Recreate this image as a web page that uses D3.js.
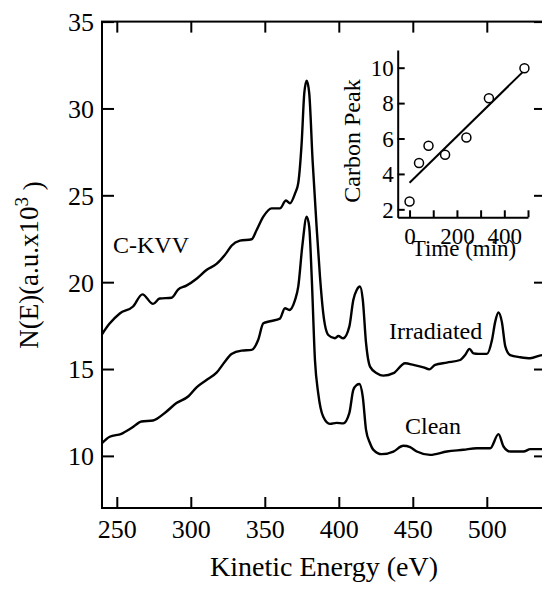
<!DOCTYPE html>
<html>
<head>
<script src="https://d3js.org/d3.v7.min.js"></script>
<style>
  body { margin: 0; background: #fff; }
  svg text { font-family: "Liberation Serif", "Times New Roman", serif; fill: #000; }
  .axis path { display: none; }
  .axis line { stroke: #000; stroke-width: 2; }
  .inset path.domain { display: inline; stroke: #000; stroke-width: 2; fill: none; }
</style>
</head>
<body>
<svg id="chart" width="542" height="591"></svg>
<script>
// spectra (eV, counts x10^3)
var irrEnergy = [240, 245, 252, 261, 267.3, 274.5, 279, 287, 291.4, 297, 303.9, 310.6, 317.4, 324.2, 327.5, 333.2,
  341.1, 344.5, 349, 354.6, 360.2, 364.3, 367, 370.4, 372.6, 374.9, 376.7, 378.3, 380, 382.3, 385, 387.3, 389.5,
  392.9, 397.4, 399.7, 403, 407.1, 409.8, 412.1, 414.3, 416.2, 418.4, 421.1, 425.7, 430.1, 436.9, 444.8, 450.4,
  457.2, 461.2, 465.1, 473, 482, 485.4, 488.3, 491, 494.4, 500.1, 503.5, 505.7, 507.9, 510.2, 512.5, 515.8,
  522.6, 529.4, 537.5, 540];
var irrCounts = [17.0, 17.6, 18.2, 18.6, 19.3, 18.75, 19.06, 19.1, 19.57, 19.8, 20.2, 20.7, 21.05, 21.7, 22.1, 22.39,
  22.47, 23.0, 23.77, 24.25, 24.25, 24.7, 24.54, 25.1, 25.7, 28.0, 30.9, 31.6, 30.9, 27.0, 23.2, 20.3, 18.2,
  16.96, 16.77, 16.9, 16.77, 17.44, 18.98, 19.55, 19.75, 19.0, 16.5, 15.14, 14.76, 14.62, 14.76, 15.33, 15.24,
  15.1, 14.98, 15.24, 15.37, 15.52, 15.81, 16.16, 15.9, 15.87, 15.87, 16.67, 17.73, 18.25, 17.7, 16.3, 15.8,
  15.68, 15.62, 15.8, 15.8];

var cleanEnergy = [240, 245.2, 253.1, 259.9, 266.7, 274.5, 282.4, 290.3, 298.2, 303.9, 310.6, 317.4, 323, 327.5,
  334.3, 341.1, 345.5, 349, 353.5, 360.2, 363.6, 366.5, 370.4, 372.6, 375.3, 378.3, 380, 381.7, 383.9, 386.1,
  389.5, 394, 398.5, 403, 407.1, 409.8, 412.1, 413.9, 416.2, 418.4, 421.1, 423.4, 429, 436.9, 443.6, 448.2,
  452.7, 461.7, 473, 484.2, 493.3, 502.3, 507.9, 511.3, 515.8, 524.8, 529.4, 537.5, 540];
var cleanCounts = [10.73, 11.1, 11.27, 11.6, 11.98, 12.04, 12.47, 13.04, 13.42, 13.95, 14.37, 14.79, 15.42, 15.87,
  16.06, 16.1, 16.67, 17.63, 17.75, 17.9, 18.5, 18.4, 18.97, 19.74, 22.04, 23.77, 23.2, 20.3, 15.5, 13.6,
  12.25, 11.84, 11.9, 11.87, 12.46, 13.8, 14.08, 14.14, 13.4, 11.5, 10.73, 10.35, 10.1, 10.25, 10.58, 10.5,
  10.25, 10.06, 10.25, 10.35, 10.44, 10.44, 11.25, 10.54, 10.25, 10.25, 10.39, 10.39, 10.39];

var energyTicks = [250, 300, 350, 400, 450, 500];
var countTicks = [10, 15, 20, 25, 30, 35];

// inset: carbon peak vs time
var timeMin = [0, 40, 80, 150, 240, 335, 485];
var carbonPeak = [2.44, 4.62, 5.59, 5.08, 6.06, 8.27, 9.97];
var fitTime = [0, 485];
var fitPeak = [3.5, 9.85];
var timeTicks = [0, 100, 200, 300, 400, 500];
var peakTicks = [2, 4, 6, 8, 10];

var svg = d3.select("#chart");

var x = d3.scaleLinear().domain([240, 540]).range([102, 546]);
var y = d3.scaleLinear().domain([7, 35]).range([508, 21.6]);

// frame
svg.append("rect")
  .attr("x", x(240)).attr("y", y(35))
  .attr("width", x(540) - x(240)).attr("height", y(7) - y(35))
  .attr("fill", "none").attr("stroke", "#000").attr("stroke-width", 2);

svg.append("g").attr("class", "axis")
  .attr("transform", "translate(0," + y(7) + ")")
  .call(d3.axisBottom(x).tickValues(energyTicks).tickSize(-11).tickSizeOuter(0))
  .selectAll("text")
  .attr("y", 30).attr("dy", 0)
  .style("font-size", "26px");

svg.append("g").attr("class", "axis")
  .attr("transform", "translate(0," + y(35) + ")")
  .call(d3.axisTop(x).tickValues(energyTicks).tickSize(-11).tickSizeOuter(0).tickFormat(""));

svg.append("g").attr("class", "axis")
  .attr("transform", "translate(" + x(240) + ",0)")
  .call(d3.axisLeft(y).tickValues(countTicks).tickSize(-12).tickSizeOuter(0))
  .selectAll("text")
  .attr("x", -8).attr("dy", "0.34em")
  .style("font-size", "26px");

svg.append("g").attr("class", "axis")
  .attr("transform", "translate(" + x(540) + ",0)")
  .call(d3.axisRight(y).tickValues(countTicks).tickSize(-12).tickSizeOuter(0).tickFormat(""));

// spectra
var line = d3.line()
  .x(function(d) { return x(d[0]); })
  .y(function(d) { return y(d[1]); })
  .curve(d3.curveMonotoneX);

[[irrEnergy, irrCounts], [cleanEnergy, cleanCounts]].forEach(function(s) {
  svg.append("path")
    .datum(d3.zip(s[0], s[1]))
    .attr("d", line)
    .attr("fill", "none")
    .attr("stroke", "#000")
    .attr("stroke-width", 2.4)
    .attr("stroke-linejoin", "round");
});

// labels
svg.append("text").attr("x", 113).attr("y", 253).style("font-size", "24px").text("C-KVV");
svg.append("text").attr("x", 389).attr("y", 339).style("font-size", "24px").text("Irradiated");
svg.append("text").attr("x", 405).attr("y", 434).style("font-size", "24px").text("Clean");

svg.append("text")
  .attr("x", 324).attr("y", 576)
  .attr("text-anchor", "middle")
  .style("font-size", "28px")
  .text("Kinetic Energy (eV)");

var ylab = svg.append("text")
  .attr("transform", "translate(38,265) rotate(-90)")
  .attr("text-anchor", "middle")
  .style("font-size", "27px");
ylab.append("tspan").text("N(E)(a.u.x10");
ylab.append("tspan").attr("dy", "-0.55em").style("font-size", "19px").text("3");
ylab.append("tspan").attr("dy", "0.55em").text(" )");

// inset
var xi = d3.scaleLinear().domain([-50, 500]).range([397.7, 528]);
var yi = d3.scaleLinear().domain([1.55, 11]).range([217.3, 50]);

var inset = svg.append("g");

inset.append("g").attr("class", "axis inset")
  .attr("transform", "translate(0," + yi(1.55) + ")")
  .call(d3.axisBottom(xi).tickValues(timeTicks).tickSize(-7).tickSizeOuter(0)
    .tickFormat(function(d) { return d % 200 === 0 ? d : ""; }))
  .selectAll("text")
  .attr("y", 27).attr("dy", 0)
  .style("font-size", "23px");

inset.append("g").attr("class", "axis inset")
  .attr("transform", "translate(" + xi(-50) + ",0)")
  .call(d3.axisLeft(yi).tickValues(peakTicks).tickSize(-7).tickSizeOuter(0))
  .selectAll("text")
  .attr("x", -4).attr("dy", "0.34em")
  .style("font-size", "23px");

inset.append("line")
  .attr("x1", xi(fitTime[0])).attr("y1", yi(fitPeak[0]))
  .attr("x2", xi(fitTime[1])).attr("y2", yi(fitPeak[1]))
  .attr("stroke", "#000").attr("stroke-width", 2);

inset.selectAll("circle")
  .data(d3.zip(timeMin, carbonPeak))
  .enter().append("circle")
  .attr("cx", function(d) { return xi(d[0]); })
  .attr("cy", function(d) { return yi(d[1]); })
  .attr("r", 4.5)
  .attr("fill", "#fff")
  .attr("stroke", "#000")
  .attr("stroke-width", 1.5);

inset.append("text")
  .attr("transform", "translate(360,141) rotate(-90)")
  .attr("text-anchor", "middle")
  .style("font-size", "24px")
  .text("Carbon Peak");

inset.append("text")
  .attr("x", 464).attr("y", 256)
  .attr("text-anchor", "middle")
  .style("font-size", "23px")
  .text("Time (min)");
</script>
</body>
</html>
